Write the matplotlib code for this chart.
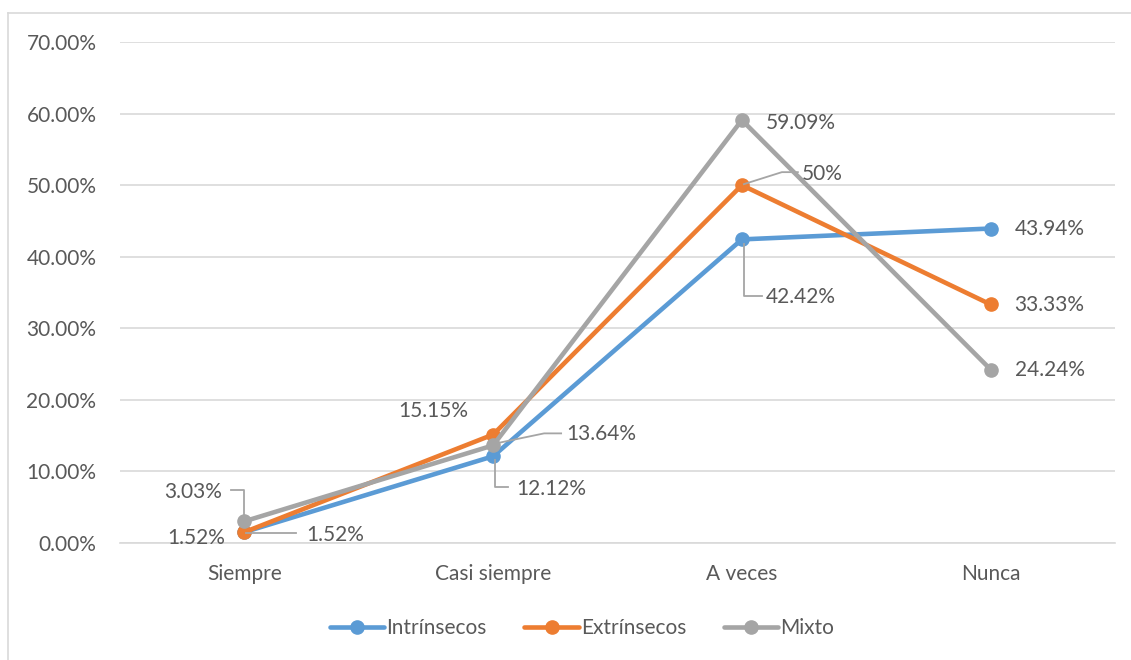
import matplotlib
matplotlib.use("Agg")
from matplotlib import pyplot as plt
from matplotlib.lines import Line2D
from matplotlib.ticker import FuncFormatter

categories = ["Siempre", "Casi siempre", "A veces", "Nunca"]
intrinsecos = [1.52, 12.12, 42.42, 43.94]
extrinsecos = [1.52, 15.15, 50.00, 33.33]
mixto = [3.03, 13.64, 59.09, 24.24]

intr_labels = ["1.52%", "12.12%", "42.42%", "43.94%"]
extr_labels = ["1.52%", "15.15%", "50%", "33.33%"]
mixto_labels = ["3.03%", "13.64%", "59.09%", "24.24%"]

colors = {"Intrínsecos": "#5B9BD5", "Extrínsecos": "#ED7D31", "Mixto": "#A5A5A5"}
text_color = "#595959"
fs = 15
plt.rcParams['font.family'] = ['Lato', 'DejaVu Sans']

W, H = 1131, 660
fig = plt.figure(figsize=(W / 100, H / 100), dpi=100)
ax = fig.add_axes([120 / W, 1 - 543 / H, (1115 - 120) / W, (543 - 42) / H])

x = list(range(len(categories)))
series = [("Intrínsecos", intrinsecos), ("Extrínsecos", extrinsecos), ("Mixto", mixto)]
for name, vals in series:
    ax.plot(x, vals, color=colors[name], lw=3.3, marker="o", ms=9.5,
            solid_capstyle="round", solid_joinstyle="round", label=name, zorder=3)

ax.set_xlim(-0.5, 3.5)
ax.set_ylim(0, 70)
ax.set_yticks(range(0, 71, 10))
ax.yaxis.set_major_formatter(FuncFormatter(lambda v, p: f"{v:.2f}%"))
ax.set_xticks(x)
ax.set_xticklabels(categories)
ax.tick_params(axis="both", length=0, labelsize=fs, colors=text_color)
ax.tick_params(axis="y", pad=17)
ax.tick_params(axis="x", pad=15)
ax.grid(axis="y", color="#D9D9D9", lw=1.2)
ax.set_axisbelow(True)
for s in ["top", "right", "left"]:
    ax.spines[s].set_visible(False)
ax.spines["bottom"].set_color("#D9D9D9")
ax.spines["bottom"].set_linewidth(1.2)


def px(xi, yi):
    return ax.transData.transform((xi, yi))


def to_data(pts):
    inv = ax.transData.inverted()
    return zip(*[inv.transform(p) for p in pts])


def label(xi, yi, text, dx, dy, ha="left", leader=None):
    # dx, dy in pixels, dy measured downward like the picture
    bx, by = px(xi, yi)
    tx, ty = ax.transData.inverted().transform((bx + dx, by - dy))
    ax.text(tx, ty, text, ha=ha, va="center", fontsize=fs, color=text_color, zorder=5)
    if leader:
        pts = [(bx + lx, by - ly) for lx, ly in leader]
        lx, ly = to_data(pts)
        ax.add_line(Line2D(lx, ly, color="#A5A5A5", lw=1.3, zorder=4, clip_on=False))


# Intrínsecos
label(0, intrinsecos[0], intr_labels[0], -48, 6, ha="center")
label(1, intrinsecos[1], intr_labels[1], 23, 33, leader=[(2, 4), (2, 31), (15, 31)])
label(2, intrinsecos[2], intr_labels[2], 24, 58, leader=[(2, 5), (2, 57), (20, 57)])
label(3, intrinsecos[3], intr_labels[3], 24, 0)
# Extrínsecos
label(0, extrinsecos[0], extr_labels[0], 62, 3, leader=[(2, 1), (52, 1)])
label(1, extrinsecos[1], extr_labels[1], -60, -24, ha="center")
label(2, extrinsecos[2], extr_labels[2], 60, -11, leader=[(2, -1), (40, -13), (56, -13)])
label(3, extrinsecos[3], extr_labels[3], 24, 1)
# Mixto
label(0, mixto[0], mixto_labels[0], -22, -29, ha="right", leader=[(-13, -31), (0, -31), (0, -6)])
label(1, mixto[1], mixto_labels[1], 73, -11, leader=[(3, -2), (51, -12), (68, -12)])
label(2, mixto[2], mixto_labels[2], 24, 3)
label(3, mixto[3], mixto_labels[3], 24, 0)

leg = fig.legend(loc="center", bbox_to_anchor=(582 / W, 1 - 628 / H), ncol=3, frameon=False,
                 fontsize=fs, handlelength=2.6, handletextpad=0.1, columnspacing=1.8)
for t in leg.get_texts():
    t.set_color(text_color)

# chart frame (top and left edges visible)
fig.add_artist(Line2D([8 / W, 1], [1 - 13 / H, 1 - 13 / H], transform=fig.transFigure, color="#D9D9D9", lw=1.2))
fig.add_artist(Line2D([8 / W, 8 / W], [0, 1 - 13 / H], transform=fig.transFigure, color="#D9D9D9", lw=1.2))

fig.savefig("out.png", dpi=100)
